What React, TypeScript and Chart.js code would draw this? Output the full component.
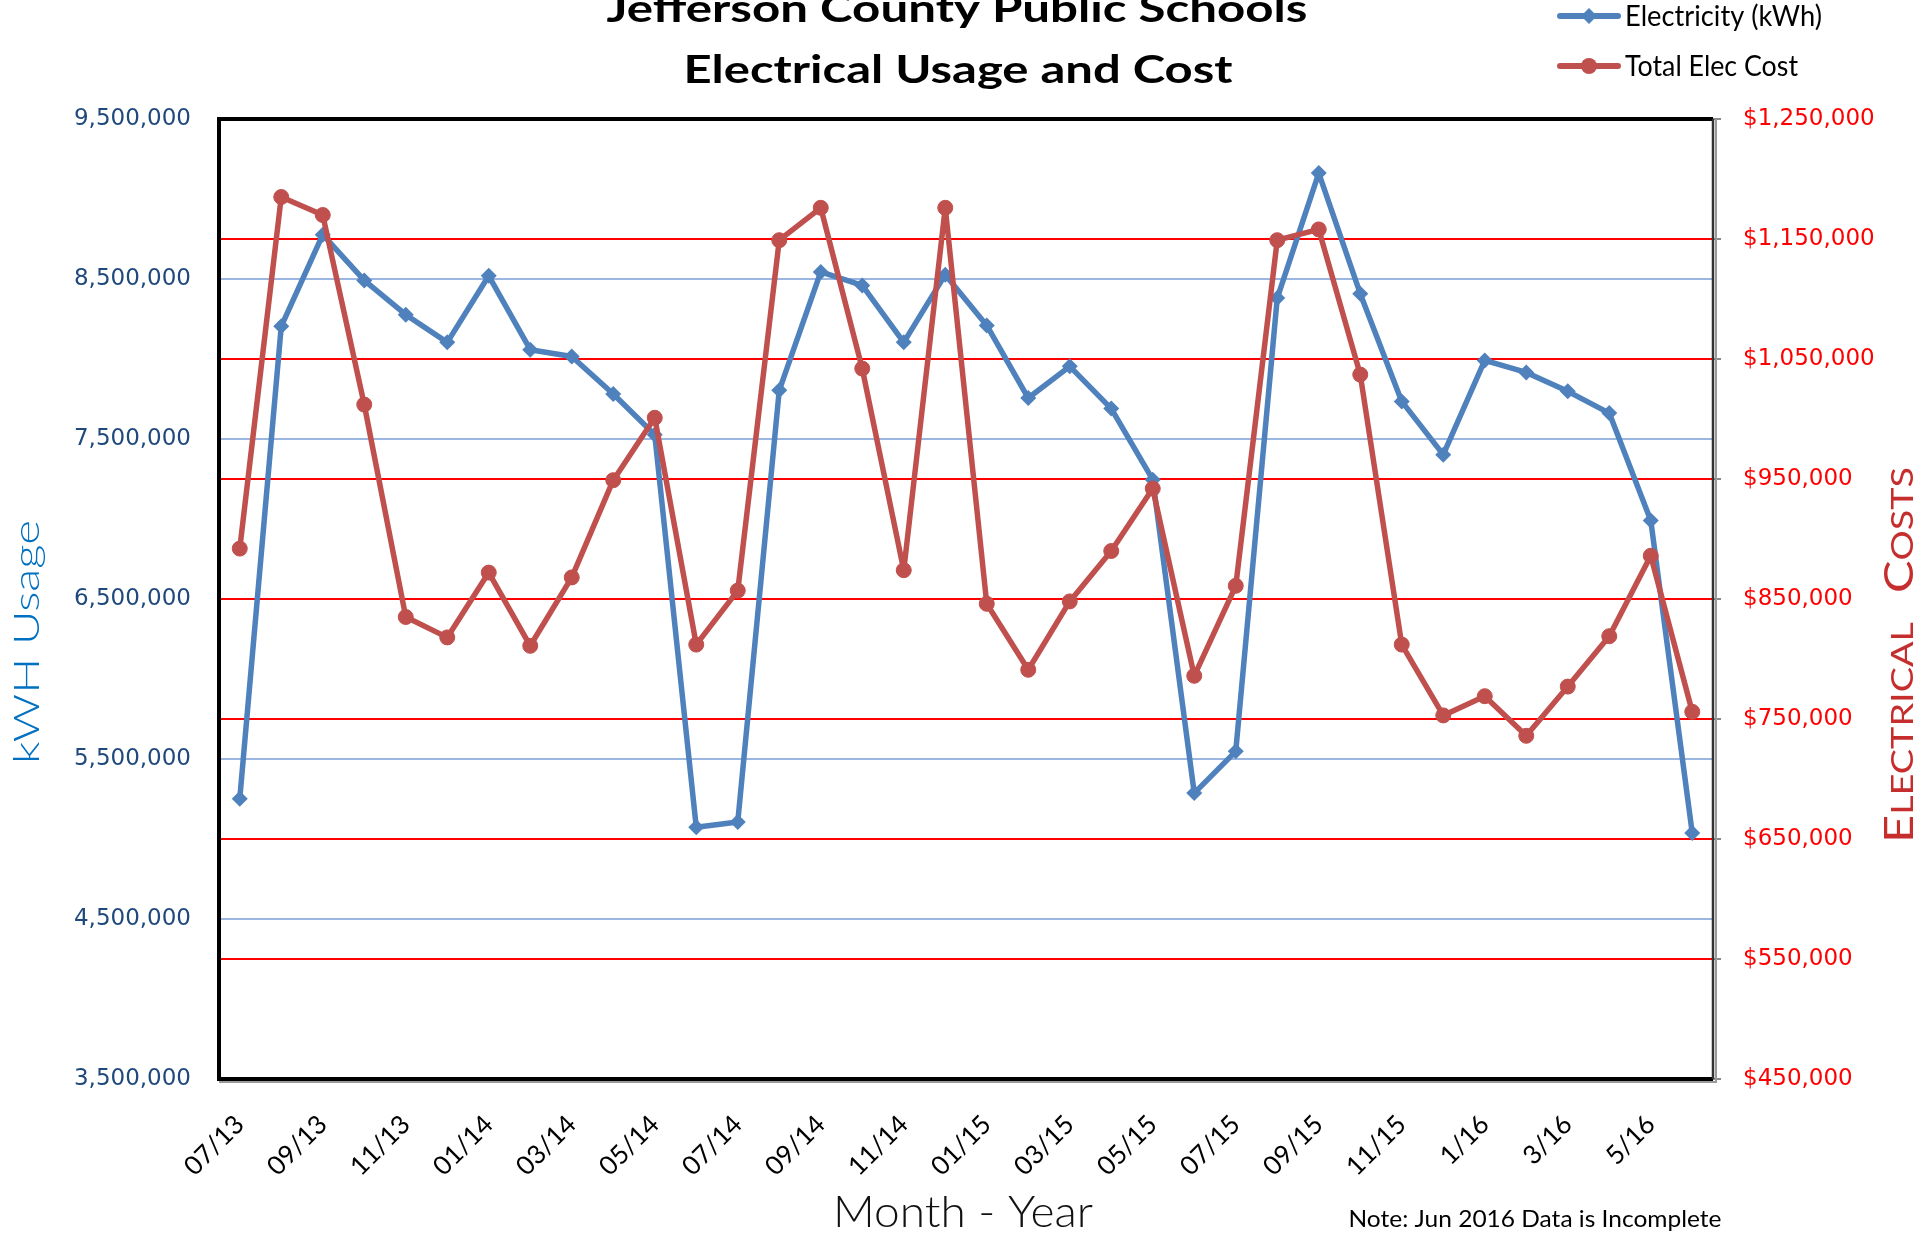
import React, { useEffect, useRef } from 'react';
import { Chart, registerables } from 'chart.js';

Chart.register(...registerables);

const months = [
  '07/13', '08/13', '09/13', '10/13', '11/13', '12/13',
  '01/14', '02/14', '03/14', '04/14', '05/14', '06/14',
  '07/14', '08/14', '09/14', '10/14', '11/14', '12/14',
  '01/15', '02/15', '03/15', '04/15', '05/15', '06/15',
  '07/15', '08/15', '09/15', '10/15', '11/15', '12/15',
  '1/16', '2/16', '3/16', '4/16', '5/16', '6/16',
];

const electricityKwh = [
  5252000, 8204000, 8777000, 8491000, 8277000, 8104000,
  8520000, 8058000, 8016000, 7781000, 7527000, 5073000,
  5106000, 7804000, 8544000, 8460000, 8104000, 8527000,
  8210000, 7756000, 7954000, 7690000, 7246000, 5287000,
  5548000, 8381000, 9162000, 8408000, 7735000, 7402000,
  7991000, 7916000, 7798000, 7662000, 6991000, 5037000,
];

const totalElecCost = [
  892000, 1185000, 1170000, 1012000, 835000, 818000,
  872000, 811000, 868000, 949000, 1001000, 812000,
  857000, 1149000, 1176000, 1042000, 874000, 1176000,
  846000, 791000, 848000, 890000, 942000, 786000,
  861000, 1149000, 1158000, 1037000, 812000, 753000,
  769000, 736000, 777000, 819000, 886000, 756000,
];

const kwhAxis = { min: 3500000, max: 9500000, step: 1000000 };
const costAxis = { min: 450000, max: 1250000, step: 100000 };

const titleLines = ['Jefferson County Public Schools', 'Electrical Usage and Cost'];
const seriesNames = ['Electricity (kWh)', 'Total Elec Cost'];
const xAxisTitle = 'Month - Year';
const leftAxisTitle = 'kWH Usage';
const noteText = 'Note: Jun 2016 Data is Incomplete';

const BLUE = '#4F81BD';
const RED = '#C0504D';

function drawFitted(
  ctx: CanvasRenderingContext2D,
  text: string,
  x: number,
  y: number,
  o: { size: number; family: string; weight?: string; color: string; width?: number; align?: CanvasTextAlign; rotate?: number; baseline?: CanvasTextBaseline }
) {
  ctx.save();
  ctx.font = `${o.weight || 'normal'} ${o.size}px ${o.family}`;
  const w = ctx.measureText(text).width;
  const sx = o.width ? o.width / w : 1;
  ctx.translate(x, y);
  if (o.rotate) ctx.rotate(o.rotate);
  ctx.scale(sx, 1);
  ctx.fillStyle = o.color;
  ctx.textAlign = o.align || 'center';
  ctx.textBaseline = o.baseline || 'alphabetic';
  ctx.fillText(text, 0, 0);
  ctx.restore();
}

const decorPlugin = {
  id: 'decor',
  beforeDatasetsDraw(chart: any) {
    const { ctx, chartArea } = chart;
    const { left, top, right, bottom } = chartArea;
    ctx.save();
    ctx.strokeStyle = '#9a9a9a';
    ctx.lineWidth = 2;
    ctx.beginPath();
    ctx.moveTo(left, bottom + 3);
    ctx.lineTo(right + 3, bottom + 3);
    ctx.lineTo(right + 3, top);
    ctx.stroke();
    ctx.strokeStyle = '#000';
    ctx.lineWidth = 4;
    ctx.beginPath();
    ctx.moveTo(right, top);
    ctx.lineTo(left, top);
    ctx.lineTo(left, bottom);
    ctx.lineTo(right, bottom);
    ctx.stroke();
    ctx.strokeStyle = '#333';
    ctx.lineWidth = 2.5;
    ctx.beginPath();
    ctx.moveTo(right, top);
    ctx.lineTo(right, bottom);
    ctx.stroke();
    ctx.restore();
  },
  afterDraw(chart: any) {
    const ctx: CanvasRenderingContext2D = chart.ctx;
    const fam = 'Lato, "Open Sans", sans-serif';
    drawFitted(ctx, titleLines[0], 957, 22, { size: 39, family: fam, weight: 'bold', color: '#000', width: 701 });
    drawFitted(ctx, titleLines[1], 958, 83, { size: 39, family: fam, weight: 'bold', color: '#000', width: 549 });

    const legendRows = [
      { y: 16, color: BLUE, style: 'diamond', text: seriesNames[0], w: 197 },
      { y: 66, color: RED, style: 'circle', text: seriesNames[1], w: 173 },
    ];
    legendRows.forEach((r) => {
      ctx.save();
      ctx.strokeStyle = r.color;
      ctx.lineWidth = 6;
      ctx.lineCap = 'round';
      ctx.beginPath();
      ctx.moveTo(1560, r.y);
      ctx.lineTo(1618, r.y);
      ctx.stroke();
      ctx.fillStyle = r.color;
      ctx.beginPath();
      if (r.style === 'diamond') {
        ctx.moveTo(1589, r.y - 8);
        ctx.lineTo(1597, r.y);
        ctx.lineTo(1589, r.y + 8);
        ctx.lineTo(1581, r.y);
        ctx.closePath();
      } else {
        ctx.arc(1589, r.y, 8, 0, Math.PI * 2);
      }
      ctx.fill();
      ctx.restore();
      drawFitted(ctx, r.text, 1625, r.y + 10, { size: 28, family: fam, color: '#000', width: r.w, align: 'left' });
    });

    drawFitted(ctx, xAxisTitle, 963, 1227, { size: 44, family: fam, weight: '300', color: '#111', width: 260 });
    drawFitted(ctx, noteText, 1535, 1227, { size: 24, family: fam, color: '#000', width: 373 });
    drawFitted(ctx, leftAxisTitle, 39, 642, { size: 35, family: fam, weight: '300', color: '#0070C0', width: 244, rotate: -Math.PI / 2 });

    ctx.save();
    const segs: [string, number][] = [
      ['E', 40], ['LECTRICAL', 31], ['   ', 31], ['C', 40], ['OSTS', 31],
    ];
    let total = 0;
    segs.forEach(([t, s]) => {
      ctx.font = `normal ${s}px ${fam}`;
      total += ctx.measureText(t).width;
    });
    const target = 376;
    const sx = target / total;
    ctx.translate(1913, 655);
    ctx.rotate(-Math.PI / 2);
    ctx.scale(sx, 1);
    ctx.fillStyle = '#C62D2D';
    ctx.textAlign = 'left';
    ctx.textBaseline = 'alphabetic';
    let cx = -total / 2;
    segs.forEach(([t, s]) => {
      ctx.font = `normal ${s}px ${fam}`;
      ctx.fillText(t, cx, 0);
      cx += ctx.measureText(t).width;
    });
    ctx.restore();
  },
};

export default function App() {
  const ref = useRef<HTMLCanvasElement | null>(null);

  useEffect(() => {
    if (!ref.current) return;
    const chart = new Chart(ref.current, {
      type: 'line',
      data: {
        labels: months,
        datasets: [
          {
            label: seriesNames[0],
            data: electricityKwh,
            yAxisID: 'y',
            borderColor: BLUE,
            backgroundColor: BLUE,
            borderWidth: 5.5,
            borderJoinStyle: 'round',
            borderCapStyle: 'round',
            pointStyle: 'rectRot',
            pointRadius: 8,
            pointBorderWidth: 0,
            pointBackgroundColor: BLUE,
            tension: 0,
            order: 1,
          },
          {
            label: seriesNames[1],
            data: totalElecCost,
            yAxisID: 'y1',
            borderColor: RED,
            backgroundColor: RED,
            borderWidth: 5.5,
            borderJoinStyle: 'round',
            borderCapStyle: 'round',
            pointStyle: 'circle',
            pointRadius: 7.5,
            pointBorderWidth: 1,
            pointBackgroundColor: RED,
            tension: 0,
            order: 0,
          },
        ],
      },
      options: {
        responsive: false,
        animation: false,
        devicePixelRatio: 1,
        layout: { padding: { top: 119, left: 0, right: 0, bottom: 0 } },
        plugins: {
          legend: { display: false },
          title: { display: false },
          tooltip: { enabled: false },
        },
        scales: {
          x: {
            type: 'category',
            offset: true,
            grid: { display: false, drawTicks: false },
            border: { display: false },
            ticks: {
              autoSkip: false,
              maxRotation: 45,
              minRotation: 45,
              padding: 30,
              color: '#000',
              font: { family: 'Lato, "Open Sans", sans-serif', size: 26 },
              callback: (_v: any, i: number) => (i % 2 === 0 ? months[i] : ''),
            },
            afterFit: (s: any) => { s.height = 157; },
          },
          y: {
            type: 'linear',
            position: 'left',
            min: kwhAxis.min,
            max: kwhAxis.max,
            grid: {
              drawTicks: false,
              lineWidth: 2,
              color: (c: any) => (c.tick && (c.tick.value === kwhAxis.min || c.tick.value === kwhAxis.max) ? 'rgba(0,0,0,0)' : '#9CB6E2'),
            },
            border: { display: false },
            ticks: {
              stepSize: kwhAxis.step,
              padding: 28,
              color: '#1F497D',
              font: { family: '"DejaVu Sans", sans-serif', size: 23 },
              callback: (v: any) => Number(v).toLocaleString('en-US'),
            },
            afterFit: (s: any) => { s.width = 219; },
          },
          y1: {
            type: 'linear',
            position: 'right',
            min: costAxis.min,
            max: costAxis.max,
            grid: {
              drawTicks: true,
              tickLength: 8,
              tickColor: '#8a8a8a',
              lineWidth: 2,
              color: (c: any) => (c.tick && (c.tick.value === costAxis.min || c.tick.value === costAxis.max) ? 'rgba(0,0,0,0)' : '#FF0000'),
            },
            border: { display: false },
            ticks: {
              stepSize: costAxis.step,
              padding: 22,
              color: '#FF0000',
              font: { family: '"DejaVu Sans", sans-serif', size: 23 },
              callback: (v: any) => '$' + Number(v).toLocaleString('en-US'),
            },
            afterFit: (s: any) => { s.width = 219; },
          },
        },
      },
      plugins: [decorPlugin],
    } as any);
    return () => chart.destroy();
  }, []);

  return (
    <div style={{ position: 'absolute', left: 0, top: 0, width: 1932, height: 1236, background: '#fff', overflow: 'hidden' }}>
      <canvas ref={ref} width={1932} height={1236} style={{ display: 'block', width: 1932, height: 1236 }} />
    </div>
  );
}
